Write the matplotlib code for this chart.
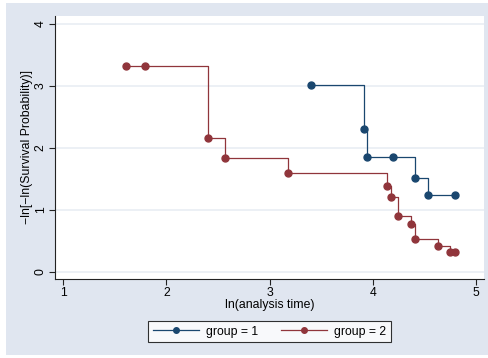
import numpy as np
import matplotlib
matplotlib.use("Agg")
import matplotlib.pyplot as plt
from matplotlib.patches import Rectangle
from matplotlib.lines import Line2D

plt.rcParams['font.family'] = ['Liberation Sans', 'DejaVu Sans']

# group = 1
g1_x = [3.40, 3.915, 3.94, 4.195, 4.41, 4.53, 4.795]
g1_y = [3.02, 2.30, 1.85, 1.85, 1.51, 1.24, 1.24]
# group = 2
g2_x = [1.605, 1.79, 2.40, 2.567, 3.18, 4.14, 4.18, 4.24, 4.37, 4.41, 4.63, 4.75, 4.795]
g2_y = [3.32, 3.32, 2.16, 1.84, 1.60, 1.39, 1.215, 0.91, 0.77, 0.53, 0.42, 0.32, 0.32]
labels = ['group = 1', 'group = 2']

navy = '#1A476F'
maroon = '#90353B'
bg = '#E0E6F0'
grid = '#E9EEF4'
fs = 8.8

W, H = 488, 358
fig = plt.figure(figsize=(W / 100, H / 100), dpi=100)
fig.patch.set_facecolor('white')
fig.patches.append(Rectangle((6 / W, 3 / H), 1 - 6 / W, 1 - 6 / H,
                             transform=fig.transFigure, facecolor=bg,
                             edgecolor='none', zorder=-10))

ax = fig.add_axes([55 / W, 1 - 279 / H, (484 - 55) / W, (279 - 16) / H])
ax.set_facecolor('white')

ax.plot(g1_x, g1_y, drawstyle='steps-post', color=navy, lw=0.9)
ax.plot(g1_x, g1_y, 'o', color=navy, ms=5)
ax.plot(g2_x, g2_y, drawstyle='steps-post', color=maroon, lw=0.9)
ax.plot(g2_x, g2_y, 'o', color=maroon, ms=5)

ax.set_xlim(0.92, 5.077)
ax.set_ylim(-0.113, 4.13)
ax.set_xticks([1, 2, 3, 4, 5])
ax.set_yticks([0, 1, 2, 3, 4])
for yv in [0, 1, 2, 3, 4]:
    ax.axhline(yv, color=grid, lw=1.2, zorder=0)

for s in ['top', 'right']:
    ax.spines[s].set_visible(False)
for s in ['left', 'bottom']:
    ax.spines[s].set_color('#222222')
    ax.spines[s].set_linewidth(0.8)
ax.tick_params(axis='both', direction='out', length=4.5, width=0.8,
               color='#222222', labelsize=fs, pad=1.5)
for lab in ax.get_yticklabels():
    lab.set_rotation(90)
    lab.set_va('center')

ax.set_xlabel('ln(analysis time)', fontsize=fs)
ax.set_ylabel('\u2212ln[\u2212ln(Survival Probability)]', fontsize=fs)
ax.xaxis.set_label_coords(0.5, -(299 - 279) / 263)
ax.yaxis.set_label_coords(-(55 - 33) / 429, 0.5)

handles = [Line2D([], [], color=navy, lw=0.9, marker='o', ms=4),
           Line2D([], [], color=maroon, lw=0.9, marker='o', ms=4)]
leg = fig.legend(handles, labels, ncol=2,
                 loc='center', bbox_to_anchor=(269.5 / W, 1 - 331.5 / H),
                 fontsize=fs, frameon=True, fancybox=False,
                 handlelength=3.8, columnspacing=1.8, handletextpad=0.6,
                 borderpad=0.4)
leg.get_frame().set_edgecolor('black')
leg.get_frame().set_linewidth(0.8)
leg.get_frame().set_facecolor('white')

fig.savefig('out.png', dpi=100)
